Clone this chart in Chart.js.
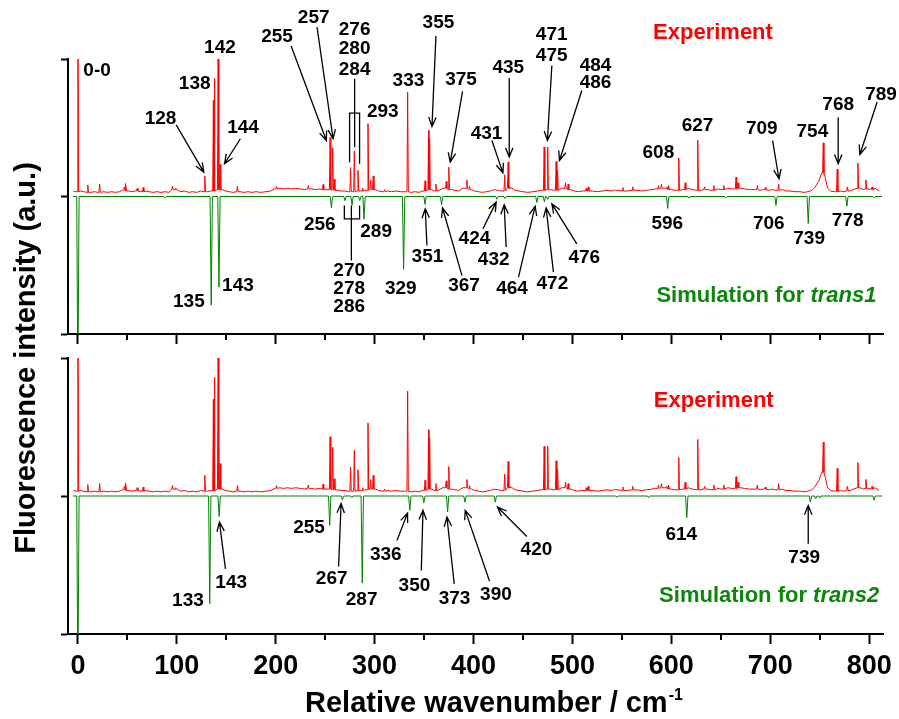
<!DOCTYPE html>
<html>
<head>
<meta charset="utf-8">
<script src="https://cdn.jsdelivr.net/npm/chart.js@4.4.0/dist/chart.umd.min.js"></script>
<style>
  html, body { margin: 0; padding: 0; background: #fff; }
  #wrap { position: relative; width: 899px; height: 719px; }
  #wrap canvas { position: absolute; left: 0; top: 0; }
</style>
</head>
<body>
<div id="wrap">
  <canvas id="topChart" width="899" height="719"></canvas>
  <canvas id="bottomChart" width="899" height="719"></canvas>
</div>
<script>
// --- data (wavenumber in cm-1, intensity in a.u.) ---
const xMin = -10, xMax = 814;
const yTicks = [-1, 0, 1];

// experiment: noisy baseline samples
const expBase = [
  [-4.6,0.04],[-2,0.035],[3,0.04],[6,0.035],[13,0.03],[17,0.035],[20,0.03],[26,0.035],[30,0.03],[34,0.035],
  [38,0.03],[42,0.035],[45,0.045],[51,0.04],[55,0.035],[58,0.04],[63,0.035],[69,0.04],[72,0.035],[76,0.03],
  [80,0.035],[84,0.03],[88,0.035],[92,0.03],[97,0.05],[101,0.045],[104,0.035],[108,0.04],[112,0.03],[116,0.035],
  [120,0.03],[124,0.04],[131,0.035],[134,0.04],[146,0.05],[149,0.04],[153,0.035],[157,0.03],[164,0.035],[168,0.03],
  [172,0.035],[176,0.03],[180,0.035],[185,0.03],[190,0.035],[195,0.04],[199,0.055],[204,0.06],[208,0.055],[212,0.06],
  [216,0.055],[220,0.06],[225,0.055],[229,0.05],[236,0.055],[240,0.05],[244,0.055],[251,0.05],[262,0.045],[266,0.04],
  [270,0.04],[273,0.035],[286,0.04],[290,0.045],[301,0.05],[304,0.04],[308,0.035],[313,0.04],[317,0.035],[321,0.04],
  [326,0.035],[330,0.035],[337,0.03],[341,0.035],[345,0.03],[348,0.04],[358,0.05],[360,0.04],[365,0.045],[369,0.06],
  [378,0.05],[381,0.045],[385,0.04],[389,0.06],[398,0.05],[401,0.04],[405,0.035],[409,0.03],[413,0.035],[417,0.04],
  [421,0.05],[425,0.045],[428,0.04],[439,0.06],[442,0.045],[446,0.04],[450,0.035],[455,0.03],[460,0.035],[465,0.04],
  [468,0.045],[478,0.05],[481,0.045],[489,0.06],[498,0.05],[502,0.04],[506,0.035],[510,0.04],[520,0.04],[525,0.035],
  [530,0.04],[535,0.045],[539,0.04],[546,0.045],[555,0.04],[565,0.045],[570,0.04],[575,0.045],[580,0.05],[584,0.055],
  [593,0.06],[600,0.05],[604,0.045],[611,0.05],[617,0.06],[621,0.05],[630,0.045],[637,0.05],[640,0.045],[647,0.055],
  [650,0.05],[657,0.06],[661,0.055],[670,0.06],[674,0.055],[679,0.05],[684,0.05],[690,0.045],[693,0.05],[698,0.045],
  [702,0.05],[705,0.045],[712,0.05],[716,0.04],[720,0.04],[725,0.035],[730,0.035],[734,0.03],[738,0.035],[742,0.045],
  [745,0.065],[749,0.11],[752,0.17],[755.5,0.14],[758,0.06],[761,0.04],[765,0.035],[771,0.04],[774,0.035],[781,0.04],
  [784,0.05],[791,0.06],[794,0.05],[799,0.055],[802,0.05],[806,0.06],[810,0.04]
];

// experiment: sharp lines [position, height]
const expPeaks = [
  [0,1.6],[10,0.083],[22,0.09],[47,0.07],[48.5,0.095],[60,0.06],[66,0.065],[95.6,0.075],[99,0.06],[128.3,0.15],
  [137,0.7],[137.9,0.86],[141.8,1.02],[143.8,0.235],[161.3,0.075],[200.8,0.075],[233,0.08],[247.9,0.087],
  [255,0.43],[257.6,0.354],[259.2,0.125],[275.7,0.21],[279.5,0.33],[283.2,0.19],[288,0.06],[293.3,0.53],
  [296,0.12],[298.6,0.15],[310,0.05],[333.4,0.76],[351,0.114],[354.6,0.48],[355.6,0.42],[362,0.09],[372.4,0.11],
  [375,0.213],[393.3,0.12],[396,0.075],[431.5,0.158],[435,0.25],[436.8,0.07],[471.4,0.36],[475,0.36],[483.5,0.255],
  [485,0.19],[493,0.1],[495.7,0.09],[514,0.06],[516,0.07],[542.7,0.05],[551,0.065],[561,0.07],[587,0.08],[590,0.09],
  [595.5,0.07],[597.3,0.08],[607.5,0.28],[614,0.1],[626.7,0.41],[633.6,0.07],[643,0.08],[653,0.08],[665.4,0.14],
  [667.5,0.1],[687,0.08],[695,0.065],[708.5,0.09],[753.6,0.39],[767.7,0.2],[778,0.07],[788.6,0.243],[796.7,0.12],
  [803,0.07]
];

// simulations (drawn downwards)
const trans1Peaks = [
  [0,-1.4],[88,-0.01],[134.8,-0.79],[142.6,-0.66],[256.3,-0.082],[270,-0.03],[277.2,-0.063],[285,-0.03],
  [289.3,-0.165],[329.3,-0.53],[351,-0.058],[367.7,-0.06],[423.6,-0.02],[432,-0.015],[464,-0.044],[471.7,-0.04],
  [475,-0.02],[596.3,-0.087],[618,-0.012],[655,-0.01],[705.8,-0.065],[738.4,-0.196],[777.5,-0.07],[805,-0.01]
];
const trans2Peaks = [
  [0,-1.4],[133.3,-0.78],[142.8,-0.148],[254.6,-0.213],[267.4,-0.027],[277,-0.012],[287.5,-0.63],[335.6,-0.104],
  [349.8,-0.05],[373.8,-0.116],[391.3,-0.045],[422,-0.045],[545,-0.01],[577,-0.012],[615.6,-0.157],[740.6,-0.045],
  [746,-0.02],[750,-0.015],[805,-0.03]
];

// --- annotation layout (label text at baseline centre, in data coordinates) ---
const topLabels = [
  ['142',143.6,1.045],['138',118.1,0.783],['128',83.5,0.529],['144',167,0.461],
  ['255',201.4,1.127],['257',238.4,1.261],['276',279.8,1.171],['280',279.8,1.033],['284',279.8,0.885],
  ['293',308.3,0.577],['333',334.2,0.803],['355',364.5,1.225],['375',387.4,0.812],
  ['431',413.1,0.42],['435',435.2,0.9],['471',479,1.135],['475',479,0.982],['484',523.4,0.916],['486',523.4,0.788],
  ['608',586.9,0.279],['627',626.5,0.48],['709',691.4,0.456],['754',742.6,0.432],['768',768.7,0.631],['789',812,0.705],
  ['135',112.2,-0.804],['143',161.8,-0.684],['256',244.6,-0.24],['289',301.5,-0.295],
  ['270',274.3,-0.575],['278',274.3,-0.708],['286',274.3,-0.841],['329',326.5,-0.708],
  ['351',353.4,-0.477],['367',390.4,-0.688],['424',400.9,-0.349],['432',420.4,-0.501],
  ['464',438.9,-0.708],['472',479.7,-0.671],['476',512,-0.482],
  ['596',595.9,-0.235],['706',698.5,-0.235],['739',739.3,-0.344],['778',778.3,-0.218]
];
const topArrows = [
  [99.4,0.521,127.3,0.177],[164.3,0.42,148.2,0.238],[215.6,1.094,251.2,0.407],[241.8,1.232,258,0.42],
  [362,1.167,358,0.509],[388.9,0.764,376.5,0.25],[418.6,0.407,429.7,0.172],[436.1,0.861,436.1,0.287],
  [479.2,0.953,474.7,0.407],[509.5,0.771,486.9,0.262],[702.4,0.407,708.8,0.129],[768.7,0.577,768.7,0.238],
  [808.1,0.687,790.6,0.305],
  [352.9,-0.356,351.2,-0.089],[388.3,-0.575,368.7,-0.084],[409.5,-0.235,422.9,-0.041],[433,-0.368,431,-0.06],
  [445.5,-0.586,462.3,-0.07],[480.8,-0.55,473.4,-0.084],[504.4,-0.344,479.2,-0.053]
];
const topLines = [
  [[279.8,0.856],[279.8,0.359]],
  [[274.7,0.25],[274.7,0.607],[284.8,0.607],[284.8,0.238]],
  [[276.5,-0.065],[276.5,-0.465]],
  [[269.4,-0.065],[269.4,-0.162],[284.8,-0.162],[284.8,-0.065]]
];
const bottomLabels = [
  ['133',111.3,-0.795],['143',155,-0.666],['255',233.7,-0.269],['267',256.6,-0.637],['287',286.9,-0.79],
  ['336',311.3,-0.463],['350',340.3,-0.691],['373',380.8,-0.783],['390',422.7,-0.753],['420',463.6,-0.424],
  ['614',610,-0.317],['739',734.3,-0.487]
];
const bottomArrows = [
  [149.2,-0.528,143.1,-0.189],[263.6,-0.511,266.1,-0.055],[322.6,-0.322,333.3,-0.124],[347.2,-0.54,348.9,-0.104],
  [380.5,-0.637,373.1,-0.153],[416.2,-0.618,391.6,-0.104],[453.9,-0.293,424.2,-0.08],[738.4,-0.346,738.4,-0.068]
];

const FONT = '"Liberation Sans", Arial, sans-serif';
const RED = '#ff0000';
const GREEN = '#0a870a';

// build line points for the experiment: baseline + narrow spikes
function buildExperiment() {
  const pts = expBase.map(([x, y]) => ({ x, y }));
  expPeaks.forEach(([p, h]) => {
    let foot = expBase[0][1], best = Infinity;
    expBase.forEach(([bx, by]) => {
      if (Math.abs(bx - p) < best) { best = Math.abs(bx - p); foot = by; }
    });
    pts.push({ x: p - 0.7, y: foot }, { x: p, y: h }, { x: p + 0.7, y: foot });
  });
  return pts.sort((a, b) => a.x - b.x);
}

// stick spectrum on a zero line
function buildSimulation(peaks) {
  const pts = [{ x: -5, y: 0 }, { x: 813, y: 0 }];
  peaks.forEach(([p, h]) => {
    pts.push({ x: p - 1.2, y: 0 }, { x: p, y: h }, { x: p + 1.2, y: 0 });
  });
  return pts.sort((a, b) => a.x - b.x);
}

function drawArrow(ctx, x1, y1, x2, y2) {
  const a = Math.atan2(y2 - y1, x2 - x1);
  const len = 10, spread = 0.38;
  ctx.beginPath();
  ctx.moveTo(x1, y1);
  ctx.lineTo(x2, y2);
  ctx.moveTo(x2 - len * Math.cos(a - spread), y2 - len * Math.sin(a - spread));
  ctx.lineTo(x2, y2);
  ctx.lineTo(x2 - len * Math.cos(a + spread), y2 - len * Math.sin(a + spread));
  ctx.stroke();
}

function drawMixed(ctx, plain, italic, right, y, color) {
  ctx.fillStyle = color;
  ctx.textBaseline = 'alphabetic';
  ctx.font = 'italic bold 22px ' + FONT;
  const w = ctx.measureText(italic).width;
  ctx.textAlign = 'left';
  ctx.fillText(italic, right - w, y);
  ctx.font = 'bold 22px ' + FONT;
  ctx.textAlign = 'right';
  ctx.fillText(plain, right - w, y);
}

// labels, arrows, minor ticks, titles
const annotate = {
  id: 'annotate',
  afterDraw(chart, args, opts) {
    const { ctx, chartArea } = chart;
    const xs = chart.scales.x, ys = chart.scales.y;
    const px = v => xs.getPixelForValue(v);
    const py = v => ys.getPixelForValue(v);
    ctx.save();

    // minor x ticks
    ctx.strokeStyle = '#000';
    ctx.lineWidth = 2;
    for (let v = 50; v < xMax; v += 100) {
      ctx.beginPath();
      ctx.moveTo(Math.round(px(v)), chartArea.bottom);
      ctx.lineTo(Math.round(px(v)), chartArea.bottom + 6);
      ctx.stroke();
    }

    ctx.fillStyle = '#000';
    ctx.font = 'bold 19px ' + FONT;
    ctx.textAlign = 'center';
    ctx.textBaseline = 'alphabetic';
    opts.labels.forEach(([t, x, y]) => ctx.fillText(t, px(x), py(y)));
    if (opts.zeroLabel) {
      ctx.textAlign = 'left';
      ctx.fillText('0-0', px(5.5), py(0.88));
    }

    ctx.strokeStyle = '#000';
    ctx.lineWidth = 1.3;
    opts.arrows.forEach(([x1, y1, x2, y2]) => drawArrow(ctx, px(x1), py(y1), px(x2), py(y2)));
    (opts.lines || []).forEach(line => {
      ctx.beginPath();
      line.forEach(([x, y], i) => i ? ctx.lineTo(px(x), py(y)) : ctx.moveTo(px(x), py(y)));
      ctx.stroke();
    });

    // series captions
    ctx.font = 'bold 22px ' + FONT;
    ctx.textAlign = 'center';
    ctx.fillStyle = RED;
    ctx.fillText('Experiment', px(opts.expCaption[0]), py(opts.expCaption[1]));
    drawMixed(ctx, 'Simulation for ', opts.simName, px(opts.simCaption[0]), py(opts.simCaption[1]), GREEN);

    if (opts.axisTitles) {
      ctx.fillStyle = '#000';
      ctx.font = 'bold 29px ' + FONT;
      ctx.textAlign = 'left';
      const main = 'Relative wavenumber / cm';
      ctx.fillText(main, 305, 712);
      const w = ctx.measureText(main).width;
      ctx.font = 'bold 16px ' + FONT;
      ctx.fillText('-1', 305 + w + 1, 700);

      ctx.translate(35, 358);
      ctx.rotate(-Math.PI / 2);
      ctx.font = 'bold 29px ' + FONT;
      ctx.textAlign = 'center';
      ctx.fillText('Fluorescence intensity (a.u.)', 0, 0);
    }
    ctx.restore();
  }
};

function panel(canvasId, simPeaks, padTop, padBottom, xHeight, showTickLabels, ann) {
  return new Chart(document.getElementById(canvasId), {
    type: 'line',
    data: {
      datasets: [
        { data: buildExperiment(), borderColor: RED, borderWidth: 1, pointRadius: 0, tension: 0 },
        { data: buildSimulation(simPeaks), borderColor: '#008000', borderWidth: 1, pointRadius: 0, tension: 0 }
      ]
    },
    options: {
      responsive: false,
      devicePixelRatio: 1,
      animation: false,
      events: [],
      layout: { padding: { left: 0, right: 16, top: padTop, bottom: padBottom } },
      plugins: { legend: { display: false }, tooltip: { enabled: false }, annotate: ann },
      scales: {
        x: {
          type: 'linear', min: xMin, max: xMax,
          afterFit: s => { s.height = xHeight; },
          border: { display: true, color: '#000', width: 2 },
          grid: { drawOnChartArea: false, drawTicks: true, tickLength: 10, tickWidth: 2, tickColor: '#000' },
          ticks: {
            display: showTickLabels, stepSize: 100, includeBounds: false, autoSkip: false, maxRotation: 0,
            padding: 6, color: '#000', font: { family: FONT, size: 27, weight: 'bold' }
          }
        },
        y: {
          type: 'linear', min: yTicks[0], max: yTicks[2],
          afterFit: s => { s.width = 68; },
          border: { display: true, color: '#000', width: 2 },
          grid: { drawOnChartArea: false, drawTicks: true, tickLength: 7, tickWidth: 2, tickColor: '#000' },
          ticks: { display: false, stepSize: 1 }
        }
      }
    },
    plugins: [annotate]
  });
}

panel('topChart', trans1Peaks, 59, 369, 16, false, {
  labels: topLabels, arrows: topArrows, lines: topLines, zeroLabel: true,
  expCaption: [642.1, 1.142], simCaption: [807.4, -0.764], simName: 'trans1', axisTitles: false
});
panel('bottomChart', trans2Peaks, 358, 0, 85, true, {
  labels: bottomLabels, arrows: bottomArrows, lines: [], zeroLabel: false,
  expCaption: [642.9, 0.647], simCaption: [810.1, -0.771], simName: 'trans2', axisTitles: true
});
</script>
</body>
</html>
